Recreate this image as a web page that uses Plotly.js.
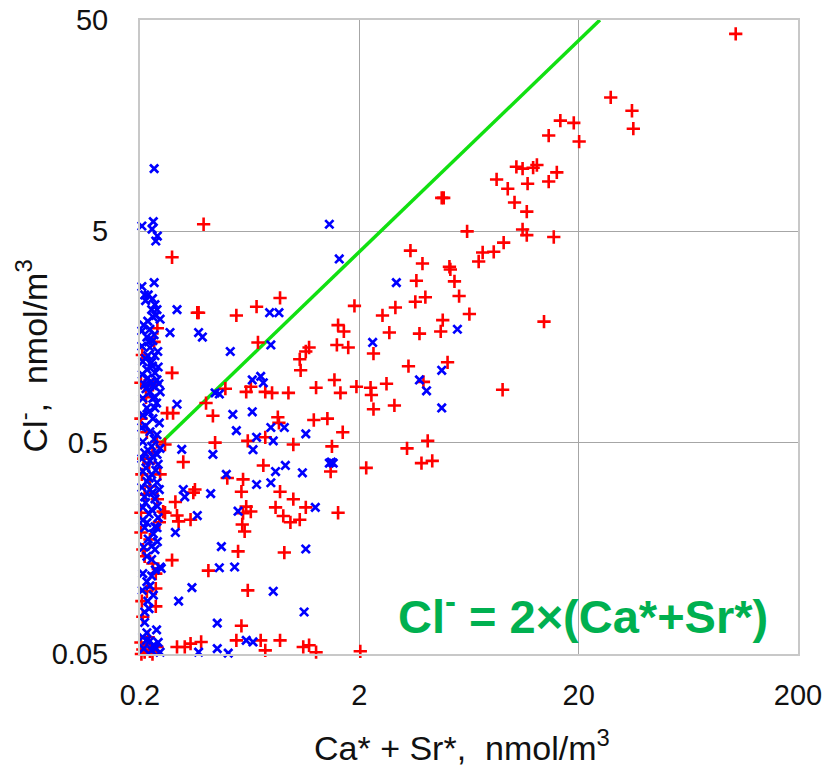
<!DOCTYPE html>
<html>
<head>
<meta charset="utf-8">
<script src="https://cdn.plot.ly/plotly-3.0.1.min.js"></script>
<style>html,body{margin:0;padding:0;background:#fff;}#chart{width:835px;height:766px;}</style>
</head>
<body>
<div id="chart"></div>
<script>
// ---- data (Ca* + Sr* vs Cl-, nmol/m3) ----
const redX = [
  104,28,35,35.5,16.5,19,14.6,20.1,10.4,11.1,12.4,12.9,15.9,8.45,14.6,9.5,11.7,10.2,11.6,11.1,11.6,15.4,9.1,8.2,7.3,7.0,6.2,13.9,9.0,6.35,
  4.75,4.85,3.42,3.88,5.15,5.2,5.43,3.64,0.87,0.68,1.9,5.7,3.6,4.0,2.92,2.55,4.8,4.7,1.6,1.7,2.74,3.76,0.69,1.58,1.78,1.18,1.14,1.07,1.08,2.32,3.35,5.05,
  0.64,0.745,0.80,0.95,1.27,1.54,1.64,1.94,2.25,2.27,2.66,3.92,2.32,2.89,0.85,0.86,1.24,1.43,1.68,0.745,1.0,1.5,4.1,3.3,
  0.73,1.48,2.15,3.84,4.3,0.87,1.0,0.83,0.90,0.97,1.07,1.14,1.6,0.91,0.71,0.87,0.745,1.11,1.18,1.27,2.02,
  0.44,0.62,0.26,0.315,0.50,0.59,0.356,0.35,0.58,0.29,0.61,0.64,0.59,0.295,0.34,0.30,0.26,0.585,0.60,0.56,0.28,0.41,0.62,0.236,0.236,0.58,0.55,0.295,0.32,0.34,0.38,
  0.365,0.37,0.55,0.24,0.28,0.49,0.61,0.40,0.43,0.266,0.283,0.39,0.28,
  0.202,0.21,0.229,0.213,0.202,0.239,0.204,0.247,0.21,0.202,0.255,0.202,0.222,0.206,0.229,0.215,0.204,0.206,0.202,0.206,0.222,0.239,0.21,0.212,0.228,0.218,0.203,
  0.215,0.228,0.208,0.24,0.222,0.205,0.232,0.22,0.245,0.21,0.236
];
const redY = [
  43,21.5,18.6,15.3,16.7,16.3,14.2,13.3,10.1,9.9,10.0,10.3,9.5,8.8,8.6,7.95,8.4,6.85,6.2,5.1,4.8,4.7,4.42,4.0,3.97,3.6,5.0,1.87,0.89,2.03,
  7.2,7.2,4.05,3.52,3.4,3.3,2.9,2.92,2.42,2.2,2.22,2.47,2.32,2.44,2.18,2.0,1.9,1.68,1.8,1.68,1.66,1.64,1.49,1.45,1.41,1.41,1.35,1.24,1.1,1.32,1.15,1.2,
  0.92,0.87,0.86,0.86,0.91,0.99,0.86,0.92,0.91,0.84,0.95,0.97,0.72,0.75,0.66,0.62,0.64,0.65,0.56,0.53,0.49,0.48,0.51,0.47,
  0.39,0.365,0.38,0.40,0.41,0.293,0.27,0.247,0.225,0.21,0.216,0.247,0.233,0.151,0.058,0.058,0.052,0.054,0.055,0.051,0.0515,
  0.50,0.51,0.49,0.405,0.34,0.335,0.30,0.29,0.293,0.262,0.249,0.236,0.232,0.226,0.216,0.212,0.233,0.205,0.19,0.153,0.139,0.124,0.10,0.12,0.084,0.068,0.058,0.054,0.054,0.056,0.057,
  2.06,2.06,2.0,1.74,1.07,0.90,0.87,0.77,0.67,0.69,0.69,5.4,3.77,
  0.96,0.93,0.94,0.82,0.65,0.505,0.354,0.354,0.284,0.233,0.236,0.188,0.174,0.156,0.134,0.099,0.089,0.075,0.0567,0.0525,0.0515,0.054,0.051,0.055,0.05,0.06,0.05,
  0.56,0.45,0.42,0.27,0.31,1.3,1.5,0.4,0.21,0.145,0.102
];
const blueX = [
  1.46,1.62,2.95,0.78,0.86,0.79,2.3,5.6,0.65,0.71,0.73,3.76,4.05,4.75,4.75,0.65,0.79,0.91,1.14,0.68,0.81,0.655,0.83,0.92,1.10,1.46,1.52,1.49,0.68,0.79,1.26,1.14,0.81,1.12,0.655,
  0.31,0.43,0.495,0.315,0.32,0.42,0.56,0.365,0.29,0.47,0.46,0.54,0.25,0.345,0.30,0.45,0.61,0.37,0.45,0.505,0.247,
  0.295,0.274,0.37,0.385,0.516,0.44,0.46,0.295,0.53,0.55,
  0.232,0.204,0.23,0.227,0.24,0.236,0.204,0.232,0.21,0.218,
  0.234,0.226,0.239,0.229,0.247,0.217,0.204,0.222,0.215,0.229,0.204,0.222,0.217,0.234,0.206,0.226,0.242,0.215,0.234,0.217,0.239,0.21,0.229,0.222,0.247,0.234,
  0.206,0.229,0.215,0.234,0.206,0.229,0.204,0.222,0.239,0.206,0.226,0.21,0.239,0.204,0.222,0.242,0.206,0.226,0.215,0.239,0.204,0.222,0.21,0.234,0.206,0.226,0.242,0.215,0.234,
  0.21,0.239,0.226,0.234,0.215,0.247,0.206,0.226,0.222,0.217,0.21,0.21,0.206,0.222,0.242,
  0.212,0.228,0.236,0.208,0.232,0.219,0.241,0.212,0.228,0.205,0.224,0.244,0.213,0.238,0.22,0.245,0.212,0.232,0.218,0.247,0.228,0.213,0.236,0.22,0.245,0.228,0.212,0.24,0.22,0.206,0.23,0.218,0.24,0.208,0.226,0.235,0.215,0.23,0.205,0.22,0.238,0.215,0.23,0.208,0.226,0.235,0.214
];
const blueY = [
  5.4,3.7,2.86,2.06,2.06,1.45,1.49,1.72,0.99,1.03,0.96,0.99,0.88,1.1,0.73,0.70,0.59,0.59,0.55,0.53,0.51,0.463,0.365,0.39,0.36,0.40,0.40,0.405,0.317,0.323,0.247,0.157,0.099,0.079,0.057,
  0.465,0.44,0.354,0.30,0.277,0.287,0.237,0.226,0.188,0.161,0.128,0.129,0.127,0.103,0.089,0.070,0.058,0.051,0.053,0.0505,0.051,
  2.13,1.66,1.66,1.58,1.35,0.86,0.85,0.76,0.68,0.57,
  9.9,5.3,5.56,5.12,4.75,4.5,2.74,2.86,2.5,2.5,
  2.25,2.13,2.13,1.97,1.92,1.88,1.69,1.72,1.58,1.52,1.43,1.41,1.29,1.29,1.21,1.20,1.14,1.11,1.07,1.01,0.99,0.94,0.93,0.87,0.87,0.82,
  0.81,0.81,0.73,0.73,0.675,0.65,0.59,0.563,0.545,0.505,0.48,0.448,0.44,0.42,0.41,0.395,0.366,0.354,0.328,0.324,0.307,0.30,0.277,0.271,0.247,0.241,0.221,0.209,0.20,
  0.198,0.198,0.162,0.156,0.145,0.129,0.12,0.117,0.105,0.089,0.079,0.0705,0.06,0.0576,0.0567,
  2.35,2.4,2.0,1.8,1.62,1.5,1.35,1.25,1.15,1.05,0.97,0.95,0.9,0.77,0.7,0.62,0.6,0.52,0.46,0.47,0.43,0.38,0.37,0.34,0.3,0.29,0.26,0.25,0.23,0.215,0.185,0.175,0.17,0.16,0.14,0.125,0.11,0.095,0.1,0.082,0.065,0.063,0.055,0.053,0.052,0.053,0.058
];
// reference line Cl- = 2 x (Ca* + Sr*)
const lineX = [0.25, 25];
const lineY = [0.5, 50];
const xTickVals = [0.2, 2, 20, 200];
const xTickText = ['0.2', '2', '20', '200'];
const yTickVals = [0.05, 0.5, 5, 50];
const yTickText = ['0.05', '0.5', '5', '50'];

const traces = [
  {x: lineX, y: lineY, mode: 'lines', line: {color: '#11e011', width: 3.5}, hoverinfo: 'skip', showlegend: false},
  {x: redX, y: redY, mode: 'markers', cliponaxis: false, showlegend: false,
   marker: {symbol: 'cross-thin', size: 9.5, color: '#ff0000', line: {color: '#ff0000', width: 2.6}}},
  {x: blueX, y: blueY, mode: 'markers', cliponaxis: false, showlegend: false,
   marker: {symbol: 'x-thin', size: 8.3, color: '#0000ff', line: {color: '#0000ff', width: 2.7}}}
];

const tickFont = {family: 'Liberation Sans, Arial, sans-serif', size: 29, color: '#111'};
const titleFont = {family: 'Liberation Sans, Arial, sans-serif', size: 34, color: '#111'};
const layout = {
  width: 835, height: 766,
  margin: {l: 140, r: 37, t: 20, b: 112},
  paper_bgcolor: '#ffffff', plot_bgcolor: '#ffffff',
  showlegend: false,
  xaxis: {
    type: 'log', range: [Math.log10(0.2), Math.log10(200)],
    tickvals: xTickVals, ticktext: xTickText, tickfont: tickFont,
    ticks: '', ticklabelstandoff: 14,
    showgrid: true, gridcolor: '#a6a6a6', gridwidth: 1.5,
    showline: true, mirror: true, linecolor: '#c8c8c8', linewidth: 2,
    zeroline: false
  },
  yaxis: {
    type: 'log', range: [Math.log10(0.05), Math.log10(50)],
    tickvals: yTickVals, ticktext: yTickText, tickfont: tickFont,
    ticks: '', ticklabelstandoff: 24,
    showgrid: true, gridcolor: '#a6a6a6', gridwidth: 1.5,
    showline: true, mirror: true, linecolor: '#c8c8c8', linewidth: 2,
    zeroline: false
  },
  annotations: [
    {xref: 'paper', yref: 'paper', x: 0.49, y: -0.145, xanchor: 'center', yanchor: 'middle', showarrow: false,
     text: 'Ca* + Sr*,\u00a0 nmol/m<sup>3</sup>', font: titleFont},
    {xref: 'paper', yref: 'paper', x: -0.165, y: 0.47, xanchor: 'center', yanchor: 'middle', showarrow: false, textangle: -90,
     text: 'Cl<sup>-</sup>,\u00a0 nmol/m<sup>3</sup>', font: titleFont},
    {xref: 'paper', yref: 'paper', x: 0.673, y: 0.065, xanchor: 'center', yanchor: 'middle', showarrow: false,
     text: '<b>Cl<sup>-</sup> = 2×(Ca*+Sr*)</b>', font: {family: 'Liberation Sans Narrow, Liberation Sans, Arial, sans-serif', size: 47, color: '#00b050'}}
  ]
};

Plotly.newPlot('chart', traces, layout, {displayModeBar: false, staticPlot: true});
</script>
</body>
</html>
